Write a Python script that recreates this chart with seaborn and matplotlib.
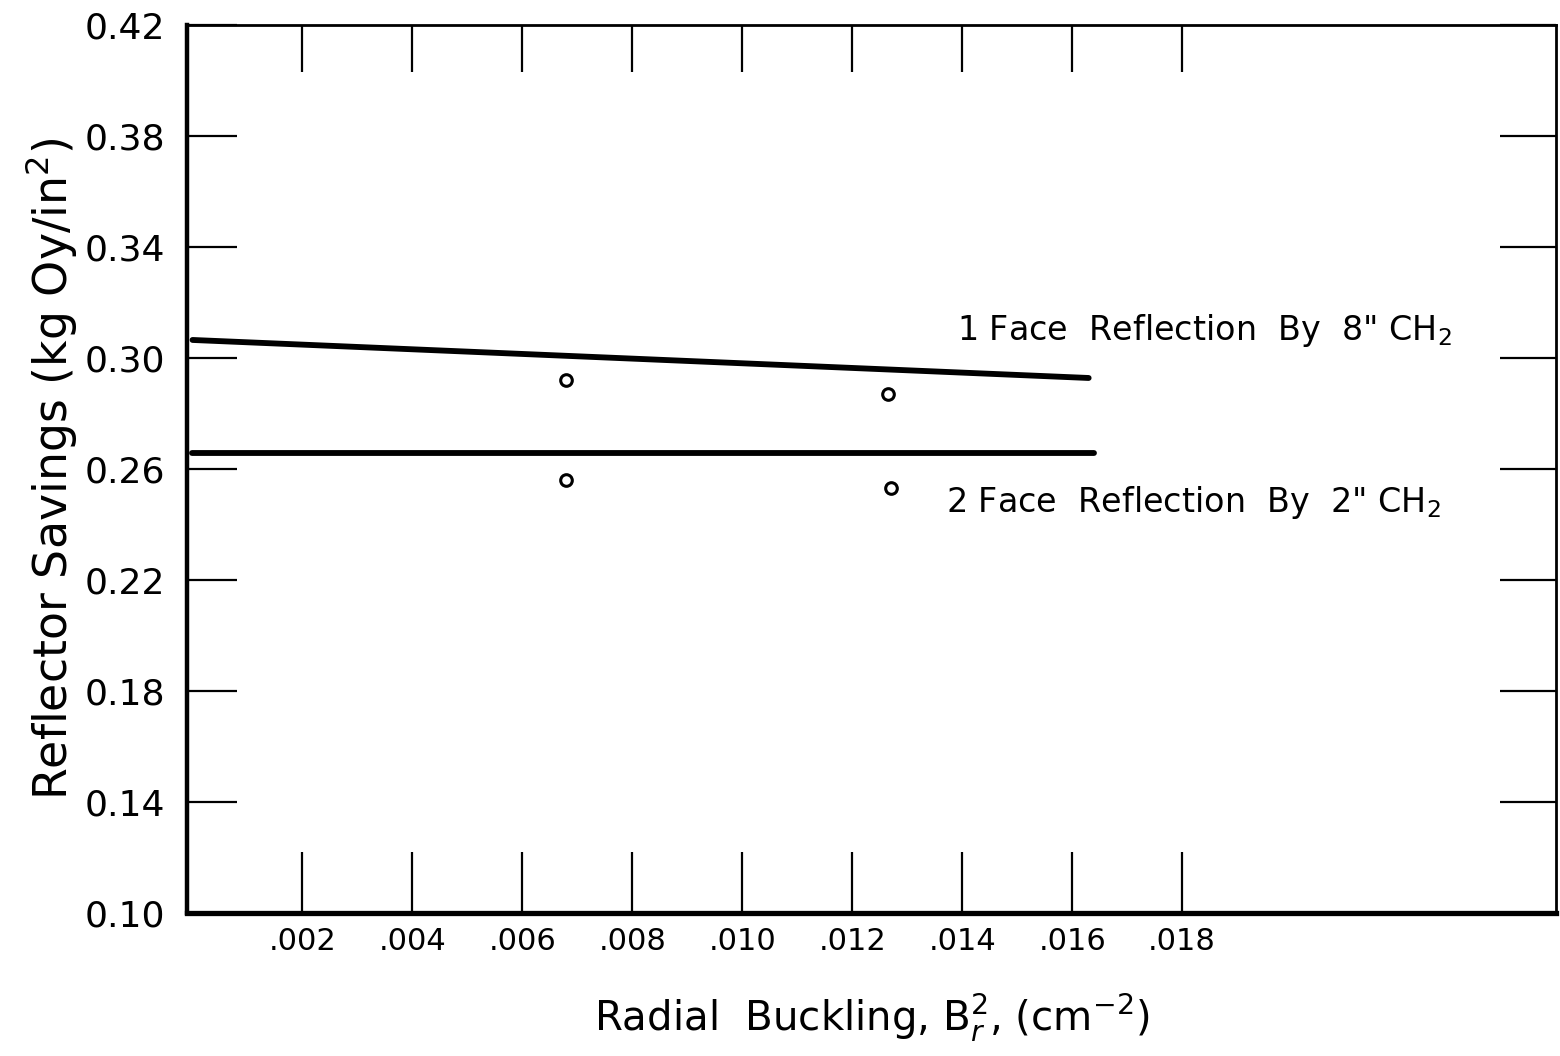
import matplotlib
matplotlib.use('Agg')
import matplotlib.pyplot as plt
import seaborn as sns

# values
x_ticks = [0.002, 0.004, 0.006, 0.008, 0.010, 0.012, 0.014, 0.016, 0.018]
x_tick_labels = ['.002', '.004', '.006', '.008', '.010', '.012', '.014', '.016', '.018']
y_ticks = [0.10, 0.14, 0.18, 0.22, 0.26, 0.30, 0.34, 0.38, 0.42]
y_tick_labels = ['0.10', '0.14', '0.18', '0.22', '0.26', '0.30', '0.34', '0.38', '0.42']

# calculated curves
one_face_x = [0.0, 0.0163]
one_face_y = [0.3065, 0.2928]
two_face_x = [0.0, 0.0164]
two_face_y = [0.2658, 0.2658]

# measured points
one_face_pts_x = [0.0068, 0.01265]
one_face_pts_y = [0.2921, 0.2870]
two_face_pts_x = [0.0068, 0.0127]
two_face_pts_y = [0.2560, 0.2532]

sns.set_style('white')
plt.rcParams['font.family'] = ['DejaVu Sans']
plt.rcParams['text.color'] = 'black'
plt.rcParams['axes.labelcolor'] = 'black'
plt.rcParams['xtick.color'] = 'black'
plt.rcParams['ytick.color'] = 'black'

fig = plt.figure(figsize=(15.6, 10.56), dpi=100)
ax = fig.add_axes([187 / 1560, (1056 - 913) / 1056, (1556 - 187) / 1560, (913 - 25) / 1056])

sns.lineplot(x=one_face_x, y=one_face_y, color='black', linewidth=4.2, ax=ax)
sns.lineplot(x=two_face_x, y=two_face_y, color='black', linewidth=4.2, ax=ax)
sns.scatterplot(x=one_face_pts_x + two_face_pts_x, y=one_face_pts_y + two_face_pts_y,
                s=70, facecolor='white', edgecolor='black', linewidth=2.2, ax=ax, zorder=3)

ax.set_xlim(-0.0001, 0.0248)
ax.set_ylim(0.10, 0.42)

ax.set_xticks(x_ticks)
ax.set_xticklabels(x_tick_labels, fontsize=22)
ax.set_yticks(y_ticks)
ax.set_yticklabels(y_tick_labels, fontsize=26)

ax.tick_params(axis='x', direction='in', length=44, width=1.6, pad=10,
               top=True, bottom=True)
ax.tick_params(axis='y', direction='in', length=36, width=1.6, pad=16,
               left=True, right=True)

# top and right ticks are a bit shorter/longer on the original
for t in ax.xaxis.get_major_ticks():
    t.tick2line.set_markersize(34)
for t in ax.yaxis.get_major_ticks():
    t.tick2line.set_markersize(40)

for side, lw in [('left', 3.2), ('bottom', 3.8), ('top', 2.0), ('right', 2.0)]:
    ax.spines[side].set_visible(True)
    ax.spines[side].set_linewidth(lw)
    ax.spines[side].set_color('black')

ax.set_xlabel('Radial  Buckling, B$_r^2$, (cm$^{-2}$)', fontsize=29, labelpad=26)
ax.set_ylabel('Reflector Savings (kg Oy/in$^2$)', fontsize=33, labelpad=4)

ax.text(0.0139, 0.310, '1 Face  Reflection  By  8" CH$_2$', fontsize=24, va='center', ha='left')
ax.text(0.0137, 0.2478, '2 Face  Reflection  By  2" CH$_2$', fontsize=24, va='center', ha='left')

fig.savefig('out.png', dpi=100, facecolor='white')
